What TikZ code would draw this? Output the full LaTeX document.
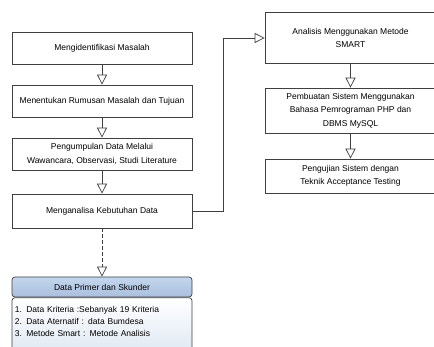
\documentclass[tikz,border=0pt]{standalone}
\usepackage{fontspec}
\setmainfont{Liberation Sans}
\usetikzlibrary{arrows.meta}
\definecolor{garis}{HTML}{3F3F3F}
\definecolor{kepalaatas}{HTML}{C4D6EE}
\definecolor{kepalabawah}{HTML}{AABFDD}
\definecolor{isibawah}{HTML}{DCE6F2}

\begin{document}
\begin{tikzpicture}[x=1pt, y=-1pt, font=\fontsize{8.5}{13.5}\selectfont,
        >={Triangle[open, width=10pt, length=10pt]},
        proses/.style={draw=garis, line width=0.7pt, fill=white, align=center,
            minimum width=180pt, inner sep=2pt},
        kanan/.style={proses, minimum width=171pt},
        kepaladata/.style={draw=garis, line width=0.7pt, rounded corners=3pt,
            top color=kepalaatas, bottom color=kepalabawah,
            minimum width=180pt, minimum height=20pt, inner sep=2pt},
        isidata/.style={draw=garis, line width=0.7pt, rounded corners=3pt,
            top color=white, bottom color=isibawah, align=left,
            text width=174pt, inner xsep=3pt, inner ysep=9pt,
            font=\fontsize{8.5}{12}\selectfont},
        panah/.style={draw=garis, line width=0.7pt, ->}]
        \useasboundingbox (0,0) rectangle (434,347);
        \clip (0,0) rectangle (434,347);

        % alur kiri
        \node[proses, minimum height=32pt] (masalah) at (102,48)
            {Mengidentifikasi Masalah};
        \node[proses, minimum height=32pt] (rumusan) at (102,101)
            {Menentukan Rumusan Masalah dan Tujuan};
        \node[proses, minimum height=32pt] (kumpul) at (102,154)
            {Pengumpulan Data Melalui\\Wawancara, Observasi, Studi Literature};
        \node[proses, minimum height=34pt] (kebutuhan) at (102,211)
            {Menganalisa Kebutuhan Data};

        % data
        \node[kepaladata] (primer) at (102,287) {Data Primer dan Skunder};
        \node[isidata, anchor=north] (daftar) at (primer.south)
            {1. Data Kriteria :Sebanyak 19 Kriteria\\2. Data Aternatif : data Bumdesa\\3. Metode Smart : Metode Analisis\\ \mbox{}};

        % alur kanan
        \node[kanan, minimum height=51pt] (smart) at (350.5,38)
            {Analisis Menggunakan Metode\\SMART};
        \node[kanan, minimum height=45pt] (pembuatan) at (350.5,110.5)
            {Pembuatan Sistem Menggunakan\\Bahasa Pemrograman PHP dan\\DBMS MySQL};
        \node[kanan, minimum height=34pt] (pengujian) at (350.5,176)
            {Pengujian Sistem dengan\\Teknik Acceptance Testing};

        \draw[panah] (masalah) -- (rumusan);
        \draw[panah] (rumusan) -- (kumpul);
        \draw[panah] (kumpul) -- (kebutuhan);
        \draw[panah, dash pattern=on 4pt off 2pt] (kebutuhan) -- (primer);
        \draw[panah] (kebutuhan.east) -- ++(31,0) |- (smart.west);
        \draw[panah] (smart) -- (pembuatan);
        \draw[panah] (pembuatan) -- (pengujian);
    \end{tikzpicture}
\end{document}
